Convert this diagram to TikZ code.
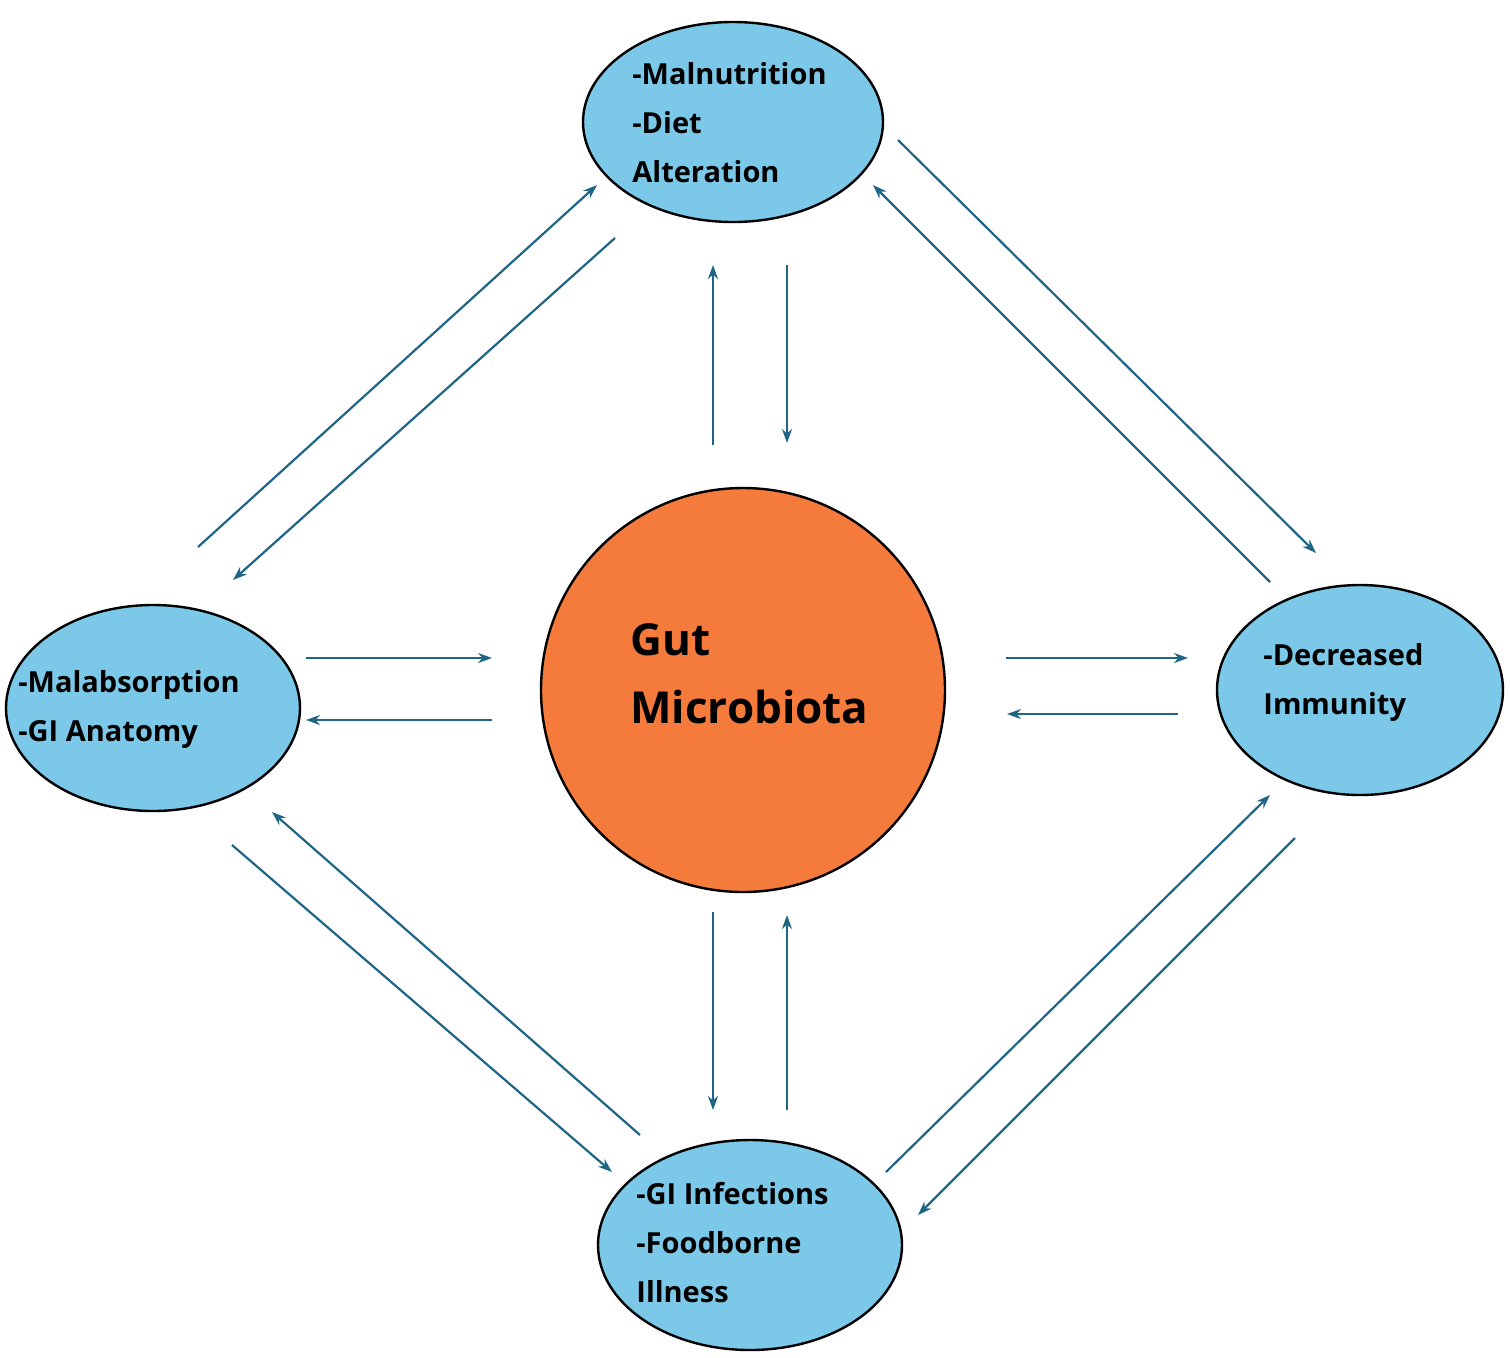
\documentclass[tikz,border=0pt]{standalone}
\usepackage{fontspec}
\setmainfont{Open Sans}
\usetikzlibrary{arrows.meta}
\begin{document}
\begin{tikzpicture}[x=0.5pt,y=-0.5pt,
  ell/.style={draw=black,line width=1.2pt,fill=blueFill},
  arr/.style={draw=arrowCol,line width=1.1pt,-{Stealth[length=7pt,width=5pt]}},
  lbl/.style={anchor=west,font=\bfseries\fontsize{14.5}{24.5}\selectfont,align=left,inner sep=0pt}]
\definecolor{blueFill}{HTML}{7CC8E8}
\definecolor{arrowCol}{HTML}{1F6585}
\definecolor{orangeFill}{HTML}{F47B3C}
\useasboundingbox (0,0) rectangle (1510,1357);
\draw[ell] (733,122) ellipse [x radius=150,y radius=100];
\draw[ell] (153,708) ellipse [x radius=147,y radius=103];
\draw[ell] (1360,690) ellipse [x radius=143,y radius=105];
\draw[ell] (750,1245) ellipse [x radius=152,y radius=105];
\draw[line width=1.2pt,fill=orangeFill] (743,690) circle [radius=202];
\node[lbl] (t) at (632,123) {-Malnutrition\\-Diet\\Alteration};
\node[lbl] (l) at (18,709) {-Malabsorption\\-GI Anatomy};
\node[lbl] (r) at (1263,682) {-Decreased\\Immunity};
\node[lbl] (b) at (636,1243) {-GI Infections\\-Foodborne\\Illness};
\node[anchor=west,font=\bfseries\fontsize{22}{34}\selectfont,align=left,inner sep=0pt] (g) at (630,674) {Gut\\Microbiota};
\foreach \a/\b/\c/\d in {198/547/597/185, 615/238/233/580, 713/445/713/265, 787/265/787/443,
 898/140/1316/553, 1270/582/873/185, 306/658/492/658, 492/720/306/720,
 1006/658/1188/658, 1178/714/1007/714, 232/845/612/1172, 640/1135/272/812,
 713/912/713/1110, 787/1110/787/915, 886/1172/1270/795, 1295/838/918/1215}
 {\coordinate (s) at (\a,\b); \coordinate (e) at (\c,\d); \draw[arr] (s) -- (e);}
\end{tikzpicture}
\end{document}
